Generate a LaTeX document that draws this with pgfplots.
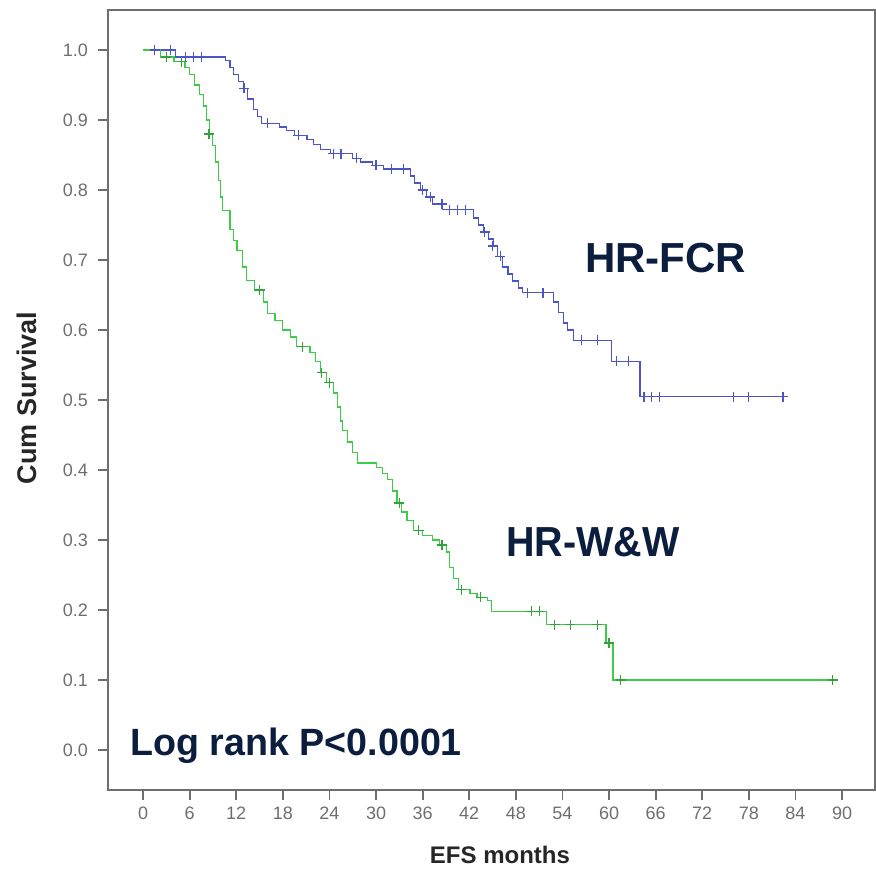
\documentclass[border=0pt]{standalone}
\usepackage{pgfplots}
\pgfplotsset{compat=1.18}
\usepackage{fontspec}
\setmainfont{Liberation Sans}
\definecolor{kmblue}{RGB}{75,85,200}
\definecolor{kmgreen}{RGB}{60,205,70}
\definecolor{navy}{RGB}{12,30,62}
\definecolor{axgray}{RGB}{110,110,110}
\begin{document}
\begin{tikzpicture}
\path[use as bounding box] (-54pt,-42.5pt) rectangle (384pt,395pt);
\begin{axis}[
  at={(0,0)}, anchor=south west,
  scale only axis, width=383.5pt, height=390pt,
  xmin=-4.51, xmax=94.25, ymin=-0.057, ymax=1.057,
  xtick={0,6,...,90}, ytick={0,0.1,...,1.0},
  tick align=outside, major tick length=5pt,
  xtick pos=bottom, ytick pos=left,
  axis line style={draw=axgray, line width=1.1pt},
  every tick/.style={draw=axgray, line width=0.9pt},
  /pgf/number format/assume math mode=true,
  yticklabel style={xshift=-1.5pt, /pgf/number format/.cd, fixed, fixed zerofill, precision=1},
  ticklabel style={font=\fontsize{9}{11}\selectfont, text=axgray},
  xlabel={EFS months}, ylabel={Cum Survival},
  xlabel style={font=\fontsize{12}{14}\selectfont\bfseries, text=black!85},
  ylabel style={font=\fontsize{13.5}{15}\selectfont\bfseries, text=black!85},
  xlabel style={at={(axis description cs:0.511,-0.0833)}, anchor=center},
  ylabel style={at={(axis description cs:-0.1056,0.5026)}, anchor=center},
  clip=false,
]
% HR-FCR
\addplot[const plot, color=kmblue, line width=0.6pt, mark=none] coordinates {
(0,1.0) (4.2,0.99) (10.6,0.985) (11.2,0.975) (11.6,0.965) (12.3,0.955) (12.9,0.945)
(13.5,0.93) (14.2,0.915) (14.7,0.905) (15.3,0.895) (17.6,0.89) (18.5,0.885) (19.5,0.878)
(21.1,0.872) (22,0.865) (22.8,0.858) (24.1,0.852) (27.0,0.845) (28.0,0.84) (29.5,0.835)
(31.0,0.83) (34.4,0.82) (35.0,0.81) (35.7,0.80) (36.5,0.79) (37.3,0.78) (38.6,0.772)
(42.5,0.76) (43.2,0.75) (43.8,0.74) (44.5,0.73) (45.1,0.72) (45.6,0.705) (46.3,0.69)
(47.0,0.68) (47.6,0.67) (48.3,0.66) (48.9,0.653) (52.8,0.64) (53.5,0.625) (54.1,0.61)
(54.7,0.6) (55.4,0.585) (60.3,0.555) (64.0,0.505) (82.4,0.505)
};
\addplot[only marks, color=kmblue, mark=+, mark size=2.5pt, line width=0.6pt] coordinates {
(1.5,1.0) (3.5,1.0) (5.5,0.99) (6.5,0.99) (7.5,0.99) (13,0.945) (16,0.895) (20,0.878)
(24.5,0.852) (25.5,0.852) (27.5,0.845) (30,0.835) (32,0.83) (33.5,0.83) (36,0.80)
(37,0.79) (38.5,0.78) (39.5,0.772) (40.5,0.772) (41.5,0.772) (44,0.74) (45,0.72)
(46,0.705) (49.5,0.653) (51.5,0.653) (56.5,0.585) (58.5,0.585) (61,0.555) (62.5,0.555)
(64.5,0.505) (65.5,0.505) (66.5,0.505) (76,0.505) (78,0.505) (82.4,0.505)
};
% HR-W&W
\addplot[const plot, color=kmgreen, line width=0.6pt, mark=none] coordinates {
(0,1.0) (2.2,0.99) (4.0,0.983) (5.4,0.975) (6.0,0.965) (6.6,0.95) (7.3,0.936) (7.8,0.92)
(8.2,0.9) (8.6,0.88) (8.9,0.864) (9.3,0.84) (9.7,0.814) (10.0,0.79) (10.2,0.771)
(11.2,0.743) (11.7,0.728) (12.1,0.714) (12.8,0.69) (13.3,0.671) (14.4,0.657) (15.5,0.64)
(16.0,0.624) (17.0,0.614) (18.0,0.6) (19.0,0.59) (19.8,0.576) (21.5,0.568) (22.2,0.555)
(22.8,0.539) (23.6,0.525) (24.5,0.51) (25.0,0.49) (25.4,0.47) (25.7,0.457) (26.3,0.44)
(27.0,0.425) (27.6,0.41) (30.1,0.404) (30.8,0.395) (31.5,0.386) (32.1,0.37) (32.7,0.353)
(33.3,0.34) (34.0,0.328) (34.8,0.314) (36.0,0.307) (37.3,0.3) (38.2,0.293) (39.1,0.283)
(39.5,0.261) (40.0,0.245) (40.6,0.229) (42.1,0.224) (43.0,0.218) (44.4,0.214) (44.9,0.198)
(52.0,0.179) (59.6,0.153) (60.5,0.1) (88.8,0.1)
};
\addplot[only marks, color=kmgreen!80!black, mark=+, mark size=2.5pt, line width=0.6pt] coordinates {
(3,0.99) (5,0.983) (8.5,0.88) (15,0.657) (20.5,0.576) (23,0.539) (24,0.525) (33,0.353)
(35.5,0.314) (38.5,0.293) (41,0.229) (43.5,0.218) (50,0.198) (51,0.198) (53,0.179)
(55,0.179) (58.5,0.179) (60,0.153) (61.5,0.1) (88.8,0.1)
};
\node[font=\fontsize{21}{24}\selectfont\bfseries, text=navy, anchor=center] at (axis cs:67.3,0.703) {HR-FCR};
\node[font=\fontsize{21}{24}\selectfont\bfseries, text=navy, anchor=center, xscale=0.94] at (axis cs:57.9,0.297) {HR-W\&W};
\node[font=\fontsize{19}{22}\selectfont\bfseries, text=navy, anchor=west, xscale=0.99, inner sep=0pt] at (axis cs:-1.67,0.006) {Log rank P<0.0001};
\end{axis}
\end{tikzpicture}
\end{document}
